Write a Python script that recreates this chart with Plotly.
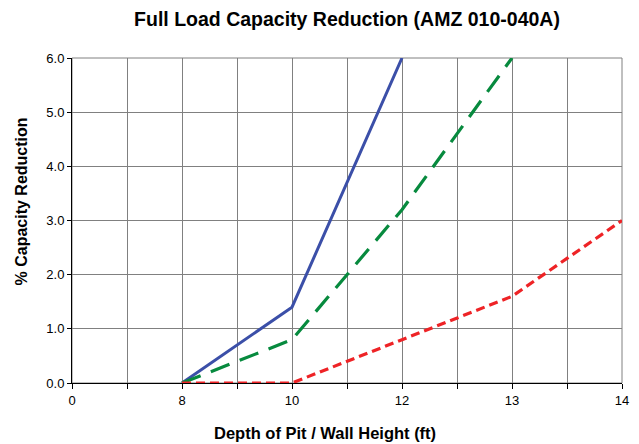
import plotly.graph_objects as go

categories = ["0", "8", "10", "12", "13", "14"]

blue_x = ["8", "10", "12"]
blue_y = [0.0, 1.4, 6.0]

green_x = ["8", "10", "12", "13"]
green_y = [0.0, 0.8, 3.2, 6.0]

red_x = ["8", "10", "12", "13", "14"]
red_y = [0.0, 0.0, 0.8, 1.6, 3.0]

y_ticks = [0, 1, 2, 3, 4, 5, 6]


def pos(xs):
    return [categories.index(x) for x in xs]


fig = go.Figure()
fig.add_trace(go.Scatter(x=pos(blue_x), y=blue_y, mode="lines",
                         line=dict(color="#3B4FA8", width=3), showlegend=False))
fig.add_trace(go.Scatter(x=pos(green_x), y=green_y, mode="lines",
                         line=dict(color="#078A3E", width=3.2, dash="20px,11px"), showlegend=False))
fig.add_trace(go.Scatter(x=pos(red_x), y=red_y, mode="lines",
                         line=dict(color="#EE2326", width=3.2, dash="9px,5px"), showlegend=False))

font_family = "Liberation Sans, Arial, sans-serif"

fig.update_layout(
    width=631, height=436,
    margin=dict(l=64, r=17, t=50, b=61, autoexpand=False),
    paper_bgcolor="white", plot_bgcolor="white",
    font=dict(family=font_family, color="black", size=13),
    title=dict(text="<b>Full Load Capacity Reduction (AMZ 010-040A)</b>",
               x=0.5, xref="paper", xanchor="center", y=1 - 11.5 / 436, yref="container",
               yanchor="middle",
               font=dict(size=19.5, family=font_family, color="black")),
    xaxis=dict(range=[0, len(categories) - 1],
               tickvals=list(range(len(categories))), ticktext=categories,
               showgrid=True, gridcolor="#808080", gridwidth=1,
               showline=True, linecolor="black", linewidth=1,
               ticks="outside", ticklen=5, tickcolor="black",
               minor=dict(dtick=0.5, tick0=0, showgrid=True, gridcolor="#808080", gridwidth=1,
                          ticks="outside", ticklen=5, tickcolor="black"),
               zeroline=False, fixedrange=True, automargin=False),
    yaxis=dict(range=[0, 6], tickvals=y_ticks, tickformat=".1f",
               showgrid=True, gridcolor="#808080", gridwidth=1,
               showline=True, linecolor="black", linewidth=1,
               ticks="outside", ticklen=4, tickcolor="black",
               zeroline=False, fixedrange=True, automargin=False),
    shapes=[dict(type="rect", xref="paper", yref="paper", x0=0, x1=1, y0=0, y1=1,
                 line=dict(color="#808080", width=1), layer="below")],
    annotations=[
        dict(text="<b>Depth of Pit / Wall Height (ft)</b>", xref="paper", yref="paper",
             x=0.46, y=-50 / 325, xanchor="center", yanchor="middle", showarrow=False,
             font=dict(size=16.5, family=font_family, color="black")),
        dict(text="<b>% Capacity Reduction</b>", xref="paper", yref="paper",
             x=-(64 - 13.5) / 550, y=0.557, xanchor="center", yanchor="middle",
             textangle=-90, showarrow=False,
             font=dict(size=16, family=font_family, color="black")),
    ],
)

fig.write_html("out.html")
